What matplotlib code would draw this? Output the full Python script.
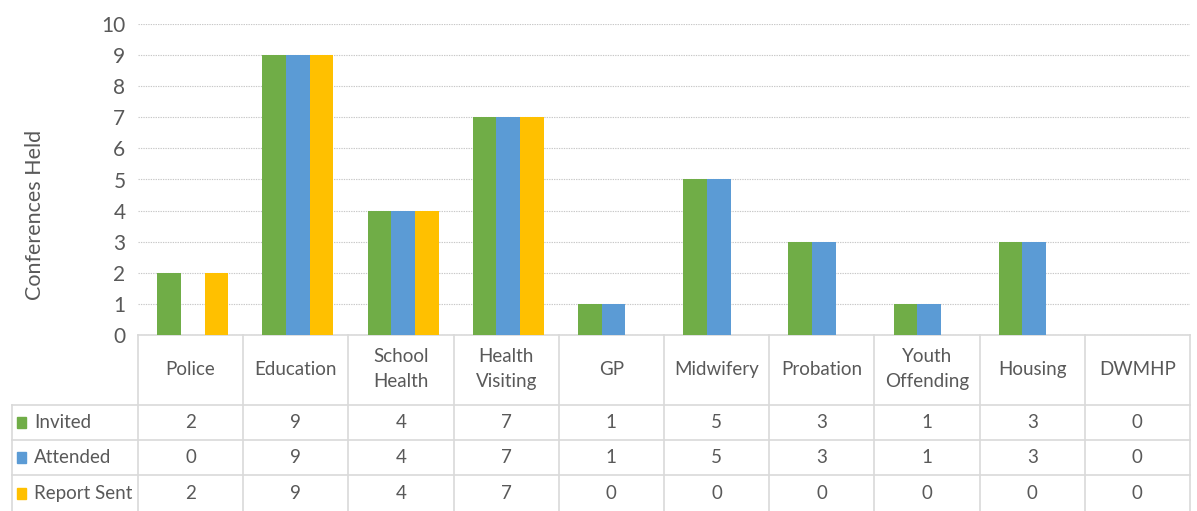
import numpy as np
import matplotlib
matplotlib.use("Agg")
import matplotlib.pyplot as plt
from matplotlib import transforms
from matplotlib.lines import Line2D
from matplotlib.patches import Rectangle

# --- data ---
categories = ["Police", "Education", "School\nHealth", "Health\nVisiting", "GP",
              "Midwifery", "Probation", "Youth\nOffending", "Housing", "DWMHP"]
invited = [2, 9, 4, 7, 1, 5, 3, 1, 3, 0]
attended = [0, 9, 4, 7, 1, 5, 3, 1, 3, 0]
report_sent = [2, 9, 4, 7, 0, 0, 0, 0, 0, 0]
series_names = ["Invited", "Attended", "Report Sent"]
series_colors = ["#70AD47", "#5B9BD5", "#FFC000"]
y_ticks = list(range(0, 11))

plt.rcParams['font.family'] = ['Lato', 'DejaVu Sans']
text_col = "#595959"
line_col = "#D9D9D9"
fs = 13.5

W, H = 1197, 511
fig = plt.figure(figsize=(W / 100, H / 100), dpi=100)

def fx(px):
    return px / W

def fy(py):
    return 1 - py / H

left_px, right_px, top_px, base_px = 138, 1190, 24, 335
ax = fig.add_axes([fx(left_px), fy(base_px), fx(right_px - left_px), fy(top_px) - fy(base_px)])

series = [invited, attended, report_sent]
x = np.arange(len(categories))
bw = 0.225
for i, (vals, col) in enumerate(zip(series, series_colors)):
    ax.bar(x + (i - 1) * bw + 0.02, vals, width=bw, color=col, zorder=3)

ax.set_xlim(-0.5, len(categories) - 0.5)
ax.set_ylim(0, 10)
ax.set_yticks(y_ticks)
ax.tick_params(axis='y', length=0, labelsize=15, labelcolor=text_col, pad=9)
ax.set_xticks([])
for s in ["top", "right", "left"]:
    ax.spines[s].set_visible(False)
ax.spines["bottom"].set_color(line_col)
ax.spines["bottom"].set_linewidth(1.2)
ax.yaxis.grid(True, color="#C8C8C8", linestyle=(0, (1.2, 1)), linewidth=0.8, zorder=0)
ax.set_axisbelow(True)

fig.text(fx(35), fy(215), "Conferences Held", rotation=90, ha="center", va="center",
         fontsize=15.5, color=text_col)

# --- data table below the chart ---
trans = transforms.blended_transform_factory(ax.transData, fig.transFigure)
table_left = 12
row_lines = [405, 440, 475]
row_centers = [422, 457, 493]

# vertical borders between categories
for b in np.arange(-0.5, len(categories), 1.0):
    fig.add_artist(Line2D([b, b], [fy(base_px), fy(H)], transform=trans,
                          color=line_col, lw=1.2))
fig.add_artist(Line2D([fx(table_left), fx(table_left)], [fy(row_lines[0]), fy(H)],
                      transform=fig.transFigure, color=line_col, lw=1.2))
for ry in row_lines:
    fig.add_artist(Line2D([fx(table_left), fx(right_px)], [fy(ry), fy(ry)],
                          transform=fig.transFigure, color=line_col, lw=1.2))

# category headers
for xi, cat in zip(x, categories):
    ax.text(xi, fy(369), cat, transform=trans, ha="center", va="center",
            fontsize=fs, color=text_col, linespacing=1.6)

# row labels with colour keys, then values
for name, col, vals, cy in zip(series_names, series_colors, series, row_centers):
    fig.add_artist(Rectangle((fx(17), fy(cy + 6)), fx(9), fy(cy - 5) - fy(cy + 6),
                             transform=fig.transFigure, color=col))
    fig.text(fx(34), fy(cy), name, ha="left", va="center", fontsize=fs, color=text_col)
    for xi, v in zip(x, vals):
        ax.text(xi, fy(cy), str(v), transform=trans, ha="center", va="center",
                fontsize=fs, color=text_col)

fig.savefig("out.png", dpi=100)
